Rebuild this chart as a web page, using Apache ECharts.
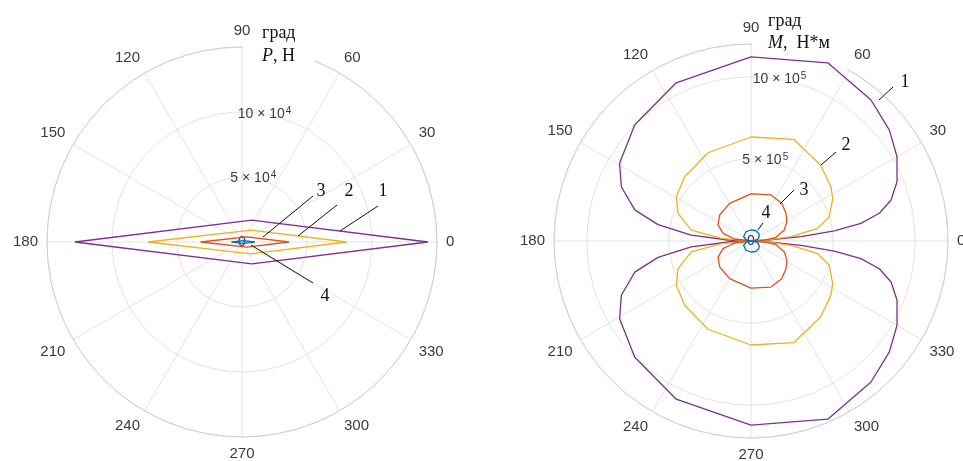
<!DOCTYPE html>
<html lang="ru">
<head>
  <meta charset="utf-8">
  <style>
    html, body { margin: 0; padding: 0; background: #fff; }
    #container { width: 963px; height: 461px; }
  </style>
</head>
<body>
  <div id="container"></div>
  <script src="https://cdn.jsdelivr.net/npm/echarts@6/dist/echarts.min.js"></script>
  <script>
    // угловая сетка и шкалы радиуса
    var angleTicks = [0, 30, 60, 90, 120, 150, 180, 210, 240, 270, 300, 330];
    var pRadiusMax = 150000, pRadiusStep = 50000;
    var mRadiusMax = 1200000, mRadiusStep = 500000;

    // левый график: P, Н (кривые 1..4)
    var p1Angle = [0, 66, 180, 294, 0];
    var p1Val = [143000, 18500, 128500, 18500, 143000];
    var p2Angle = [0, 53, 180, 307, 0];
    var p2Val = [80400, 11400, 72300, 11400, 80400];
    var p3Angle = [0, 47, 180, 313, 0];
    var p3Val = [36200, 5300, 31900, 5300, 36200];
    var p4Angle = [0, 45, 180, 315, 0];
    var p4Val = [10000, 1500, 8100, 1500, 10000];

    // правый график: M, Н*м (кривые 1..4)
    var m1Angle = [0, 3.4, 4.9, 7, 9.1, 12.2, 16.3, 22.1, 30, 38.7, 49.6, 66.7, 90, 115.3, 135, 149.4, 157.3, 165, 170, 174.3, 177.5, 180,
                   182.5, 185.7, 190, 195, 202.7, 210.6, 225, 244.7, 270, 293.3, 310.4, 321.3, 330, 337.9, 343.7, 347.8, 350.9, 353, 355.1, 356.6, 360];
    var m1Val = [0, 102000, 306000, 511000, 678000, 800000, 889000, 960000, 1027000, 1080000, 1128000, 1182000, 1121000, 1066000, 1001000, 930000, 856000, 733000, 575000, 366000, 140000, 0,
                 140000, 366000, 575000, 733000, 856000, 930000, 1001000, 1066000, 1121000, 1182000, 1128000, 1080000, 1027000, 960000, 889000, 800000, 678000, 511000, 306000, 102000, 0];
    var m2Angle = [0, 3, 6.2, 10.8, 17.2, 27.6, 34.2, 47.6, 67.2, 90, 116, 135.9, 149.3, 159.2, 169.6, 175, 180,
                   185, 190.4, 200.8, 210.7, 224.1, 244, 270, 292.8, 312.4, 325.8, 332.4, 342.8, 349.2, 353.8, 357, 360];
    var m2Val = [0, 81600, 244900, 413600, 499500, 561600, 589000, 627000, 672000, 633500, 598000, 562800, 528700, 475100, 369700, 181500, 0,
                 181500, 369700, 475100, 528700, 562800, 598000, 633500, 672000, 627000, 589000, 561600, 499500, 413600, 244900, 81600, 0];
    var m3Angle = [0, 4, 8.4, 18.3, 28.2, 38.4, 50.8, 66.5, 90, 119.5, 140.3, 154, 164.6, 173, 180,
                   187, 195.4, 206, 219.7, 240.5, 270, 293.5, 309.2, 321.6, 331.8, 341.7, 351.6, 356, 360];
    var m3Val = [0, 81600, 154100, 213800, 248500, 271700, 296000, 305800, 287500, 263700, 247900, 223500, 176600, 99900, 0,
                 99900, 176600, 223500, 247900, 263700, 287500, 305800, 296000, 271700, 248500, 213800, 154100, 81600, 0];
    var m4Angle = [0, 5, 15, 30, 45, 66, 90, 120, 150, 170, 180, 190, 210, 240, 270, 294, 315, 330, 345, 355, 360];
    var m4Val = [0, 21000, 43000, 58000, 67000, 70000, 67000, 64000, 52000, 27000, 0, 27000, 52000, 64000, 67000, 70000, 67000, 58000, 43000, 21000, 0];

    var colors = ['#7E2F8E', '#EDB120', '#D95319', '#0072BD'];

    var dom = document.getElementById('container');
    var myChart = echarts.init(dom, null, { renderer: 'canvas' });

    function pairs(vals, angles) {
      return vals.map(function (v, i) { return [v, angles[i]]; });
    }

    function ringLabel(exp, sup) {
      return function (v) {
        if (v === 0) return '0';
        if (v % Math.pow(10, exp) !== 0 || v >= (exp === 4 ? pRadiusMax : mRadiusMax)) return '';
        return '{a|' + (v / Math.pow(10, exp)) + ' × 10}{s|' + sup + '}';
      };
    }

    var labelFont = 'Liberation Sans, Arial, sans-serif';
    var serif = 'Liberation Serif, Times New Roman, serif';

    function gridAngle(idx) {
      return {
        polarIndex: idx, startAngle: 0, clockwise: false, min: 0, max: 360, interval: 30,
        axisLine: { show: true, lineStyle: { color: '#cfcfcf', width: 1 } },
        axisTick: { show: false },
        splitLine: { show: true, lineStyle: { color: '#e3e3e3', width: 1 } },
        axisLabel: {
          margin: 9, color: '#3a3a3a', fontSize: 15, fontFamily: labelFont,
          formatter: function (v) { return angleTicks.indexOf(v) >= 0 ? String(v) : ''; }
        }
      };
    }
    function gridRadius(idx, max, step) {
      return {
        polarIndex: idx, min: 0, max: max, interval: step,
        axisLine: { show: false }, axisTick: { show: false }, axisLabel: { show: false },
        splitLine: { show: true, lineStyle: { color: '#e3e3e3', width: 1 } }
      };
    }
    function labelAngle(idx) {
      return { polarIndex: idx, startAngle: 80, clockwise: false, min: 0, max: 360, show: false };
    }
    function labelRadius(idx, max, step, exp, sup) {
      return {
        polarIndex: idx, min: 0, max: max, interval: step,
        axisLine: { show: false }, axisTick: { show: false }, splitLine: { show: false },
        axisLabel: {
          margin: 0, align: 'center', verticalAlign: 'middle', color: '#3a3a3a',
          fontSize: 14, fontFamily: labelFont,
          formatter: ringLabel(exp, sup),
          rich: {
            a: { fontSize: 14, fontFamily: labelFont, color: '#3a3a3a', lineHeight: 16 },
            s: { fontSize: 10, fontFamily: labelFont, color: '#3a3a3a', verticalAlign: 'top', lineHeight: 16, padding: [0, 0, 6, 1] }
          }
        }
      };
    }

    function line(name, polarIdx, vals, angles, color, z) {
      return {
        name: name, type: 'line', coordinateSystem: 'polar', polarIndex: polarIdx,
        data: pairs(vals, angles), showSymbol: false, symbol: 'none', smooth: false,
        lineStyle: { color: color, width: 1.3 }, z: z, silent: true
      };
    }

    function note(x, y, t) {
      return { type: 'text', x: x, y: y, z: 100,
        style: { text: t, font: '18px ' + serif, fill: '#111', align: 'center', verticalAlign: 'middle' } };
    }
    function leader(x1, y1, x2, y2) {
      return { type: 'line', z: 100, shape: { x1: x1, y1: y1, x2: x2, y2: y2 },
        style: { stroke: '#111', lineWidth: 1 } };
    }

    var option = {
      animation: false,
      backgroundColor: '#fff',
      polar: [
        { center: [242, 242], radius: 195 },
        { center: [751, 241], radius: 197 },
        { center: [242, 242], radius: 195 },
        { center: [751, 241], radius: 197 }
      ],
      angleAxis: [gridAngle(0), gridAngle(1), labelAngle(2), labelAngle(3)],
      radiusAxis: [
        gridRadius(0, pRadiusMax, pRadiusStep),
        gridRadius(1, mRadiusMax, mRadiusStep),
        labelRadius(2, pRadiusMax, pRadiusStep, 4, '4'),
        labelRadius(3, mRadiusMax, mRadiusStep, 5, '5')
      ],
      series: [
        line('P1', 0, p1Val, p1Angle, colors[0], 2),
        line('P2', 0, p2Val, p2Angle, colors[1], 3),
        line('P3', 0, p3Val, p3Angle, colors[2], 4),
        line('P4', 0, p4Val, p4Angle, colors[3], 5),
        line('M1', 1, m1Val, m1Angle, colors[0], 2),
        line('M2', 1, m2Val, m2Angle, colors[1], 3),
        line('M3', 1, m3Val, m3Angle, colors[2], 4),
        line('M4', 1, m4Val, m4Angle, colors[3], 5)
      ],
      graphic: [
        // белые подложки под подписями осей
        { type: 'rect', z: 1, shape: { x: 243, y: 40, width: 72, height: 24 }, style: { fill: '#fff' } },
        { type: 'rect', z: 1, shape: { x: 752, y: 36, width: 95, height: 35 }, style: { fill: '#fff' } },
        { type: 'text', x: 262, y: 33, z: 100,
          style: { text: 'град', font: '18px ' + serif, fill: '#111', verticalAlign: 'middle' } },
        { type: 'text', x: 262, y: 56, z: 100,
          style: { text: '{i|P}, Н', font: '18px ' + serif, fill: '#111', verticalAlign: 'middle',
            rich: { i: { fontStyle: 'italic', fontSize: 18, fontFamily: serif, fill: '#111' } } } },
        { type: 'text', x: 768, y: 21, z: 100,
          style: { text: 'град', font: '18px ' + serif, fill: '#111', verticalAlign: 'middle' } },
        { type: 'text', x: 768, y: 43, z: 100,
          style: { text: '{i|M},  Н*м', font: '18px ' + serif, fill: '#111', verticalAlign: 'middle',
            rich: { i: { fontStyle: 'italic', fontSize: 18, fontFamily: serif, fill: '#111' } } } },
        // выноски левого графика
        leader(313, 196, 263, 237), note(321, 191, '3'),
        leader(337, 205, 298, 236), note(349, 191, '2'),
        leader(378, 206, 340, 231), note(383, 191, '1'),
        leader(251, 245, 313, 283), note(325, 296, '4'),
        // выноски правого графика
        leader(893, 87, 879, 100), note(905, 82, '1'),
        leader(836, 152, 821, 165), note(846, 145, '2'),
        leader(794, 190, 780, 204), note(804, 190, '3'),
        leader(763, 223, 758, 230), note(766, 213, '4')
      ]
    };

    myChart.setOption(option);
    window.addEventListener('resize', myChart.resize);
  </script>
</body>
</html>
